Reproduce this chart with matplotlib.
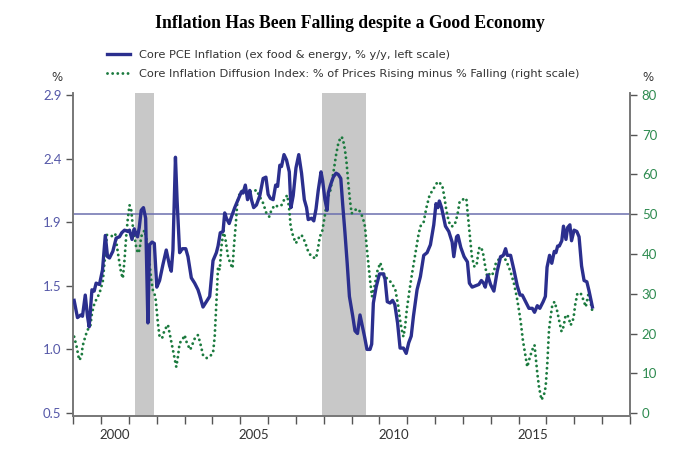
import matplotlib
matplotlib.use("Agg")
import matplotlib.pyplot as plt
import numpy as np

# Core PCE inflation (left scale) as (decimal year, %)
pce_points = [
    (1999.03, 1.35), (1999.15, 1.22), (1999.27, 1.24), (1999.33, 1.23), (1999.43, 1.39),
    (1999.51, 1.23), (1999.57, 1.15), (1999.67, 1.43), (1999.75, 1.42), (1999.82, 1.48),
    (1999.94, 1.47), (2000.05, 1.58), (2000.15, 1.84), (2000.23, 1.68), (2000.30, 1.67),
    (2000.42, 1.72), (2000.54, 1.82), (2000.66, 1.83), (2000.74, 1.86), (2000.84, 1.88),
    (2000.96, 1.87), (2001.02, 1.88), (2001.11, 1.81), (2001.19, 1.89), (2001.25, 1.85),
    (2001.31, 1.83), (2001.37, 1.90), (2001.44, 2.03), (2001.52, 2.05), (2001.60, 1.97),
    (2001.68, 1.18), (2001.74, 1.77), (2001.83, 1.79), (2001.91, 1.78), (2002.00, 1.45),
    (2002.10, 1.50), (2002.22, 1.62), (2002.34, 1.73), (2002.46, 1.61), (2002.52, 1.57),
    (2002.58, 1.73), (2002.67, 2.43), (2002.73, 2.10), (2002.82, 1.71), (2002.92, 1.74),
    (2003.04, 1.74), (2003.12, 1.68), (2003.24, 1.52), (2003.36, 1.48), (2003.48, 1.43),
    (2003.54, 1.39), (2003.66, 1.30), (2003.78, 1.34), (2003.90, 1.38), (2004.02, 1.65),
    (2004.14, 1.71), (2004.20, 1.76), (2004.28, 1.86), (2004.38, 1.87), (2004.44, 2.01),
    (2004.50, 1.97), (2004.60, 1.93), (2004.68, 1.98), (2004.80, 2.05), (2004.92, 2.11),
    (2005.04, 2.17), (2005.10, 2.16), (2005.18, 2.22), (2005.26, 2.11), (2005.34, 2.18),
    (2005.40, 2.11), (2005.48, 2.05), (2005.58, 2.07), (2005.70, 2.14), (2005.82, 2.27),
    (2005.92, 2.28), (2006.00, 2.15), (2006.08, 2.12), (2006.18, 2.11), (2006.27, 2.22),
    (2006.34, 2.21), (2006.42, 2.37), (2006.48, 2.36), (2006.57, 2.45), (2006.66, 2.41),
    (2006.76, 2.32), (2006.82, 2.05), (2006.90, 2.14), (2007.00, 2.35), (2007.10, 2.45),
    (2007.20, 2.31), (2007.30, 2.11), (2007.38, 2.05), (2007.44, 1.96), (2007.56, 1.97),
    (2007.64, 1.95), (2007.72, 2.04), (2007.80, 2.18), (2007.90, 2.32), (2007.96, 2.25),
    (2008.04, 2.11), (2008.12, 2.03), (2008.16, 2.16), (2008.24, 2.22), (2008.34, 2.28),
    (2008.44, 2.31), (2008.52, 2.30), (2008.61, 2.27), (2008.68, 2.07), (2008.76, 1.86),
    (2008.84, 1.63), (2008.92, 1.38), (2009.04, 1.23), (2009.12, 1.12), (2009.21, 1.10),
    (2009.30, 1.24), (2009.40, 1.14), (2009.46, 1.08), (2009.55, 0.98), (2009.66, 0.98),
    (2009.72, 1.02), (2009.78, 1.33), (2009.88, 1.45), (2010.00, 1.55), (2010.14, 1.55),
    (2010.20, 1.51), (2010.28, 1.34), (2010.38, 1.33), (2010.47, 1.35), (2010.55, 1.32),
    (2010.65, 1.18), (2010.74, 0.99), (2010.86, 0.99), (2010.96, 0.95), (2011.05, 1.03),
    (2011.14, 1.08), (2011.22, 1.23), (2011.35, 1.43), (2011.47, 1.53), (2011.59, 1.69),
    (2011.71, 1.71), (2011.83, 1.77), (2011.95, 1.92), (2012.03, 2.08), (2012.10, 2.05),
    (2012.15, 2.10), (2012.23, 2.05), (2012.37, 1.91), (2012.49, 1.87), (2012.61, 1.79),
    (2012.67, 1.68), (2012.77, 1.83), (2012.82, 1.84), (2012.92, 1.75), (2013.04, 1.68),
    (2013.16, 1.64), (2013.23, 1.48), (2013.33, 1.45), (2013.45, 1.46), (2013.57, 1.47),
    (2013.66, 1.50), (2013.74, 1.48), (2013.80, 1.45), (2013.89, 1.54), (2013.99, 1.47),
    (2014.11, 1.42), (2014.23, 1.57), (2014.35, 1.68), (2014.45, 1.69), (2014.53, 1.74),
    (2014.59, 1.69), (2014.71, 1.69), (2014.83, 1.58), (2014.95, 1.46), (2015.05, 1.39),
    (2015.13, 1.39), (2015.25, 1.34), (2015.37, 1.29), (2015.49, 1.29), (2015.57, 1.26),
    (2015.67, 1.31), (2015.76, 1.29), (2015.88, 1.34), (2015.96, 1.38), (2016.02, 1.60),
    (2016.11, 1.69), (2016.19, 1.63), (2016.28, 1.72), (2016.34, 1.71), (2016.40, 1.76),
    (2016.46, 1.76), (2016.55, 1.80), (2016.61, 1.91), (2016.70, 1.81), (2016.76, 1.90),
    (2016.84, 1.92), (2016.90, 1.80), (2016.99, 1.88), (2017.09, 1.87), (2017.17, 1.83),
    (2017.26, 1.61), (2017.35, 1.50), (2017.45, 1.49), (2017.53, 1.42), (2017.65, 1.30),
]

# Core inflation diffusion index (right scale)
dif_points = [
    (1999.03, 19.2), (1999.12, 16.7), (1999.21, 13.3), (1999.30, 14.2), (1999.33, 16.7),
    (1999.43, 19.2), (1999.51, 20.9), (1999.61, 21.7), (1999.67, 25.1), (1999.76, 27.6),
    (1999.94, 30.1), (2000.06, 33.1), (2000.12, 37.7), (2000.18, 42.0), (2000.21, 44.8),
    (2000.30, 44.8), (2000.42, 44.4), (2000.51, 45.0), (2000.57, 41.8), (2000.66, 37.7),
    (2000.72, 35.2), (2000.78, 33.9), (2000.84, 38.5), (2000.90, 44.4), (2000.96, 49.0),
    (2001.02, 52.3), (2001.08, 51.1), (2001.14, 46.9), (2001.20, 44.4), (2001.26, 41.8),
    (2001.32, 40.2), (2001.38, 41.0), (2001.44, 44.4), (2001.56, 46.0), (2001.68, 41.8),
    (2001.74, 37.7), (2001.80, 33.5), (2001.86, 30.9), (2001.95, 29.3), (2002.04, 22.6),
    (2002.10, 19.2), (2002.19, 18.8), (2002.28, 20.9), (2002.40, 22.2), (2002.46, 20.1),
    (2002.58, 15.9), (2002.70, 11.6), (2002.76, 14.2), (2002.82, 17.6), (2002.92, 18.4),
    (2003.00, 19.6), (2003.08, 17.6), (2003.20, 15.9), (2003.30, 17.6), (2003.39, 19.2),
    (2003.48, 19.6), (2003.56, 17.6), (2003.66, 14.6), (2003.78, 13.8), (2003.90, 14.2),
    (2004.02, 15.1), (2004.08, 19.2), (2004.14, 27.6), (2004.20, 36.8), (2004.26, 36.0),
    (2004.32, 41.8), (2004.40, 46.0), (2004.47, 43.5), (2004.56, 39.3), (2004.64, 37.7),
    (2004.72, 36.4), (2004.77, 41.8), (2004.84, 47.7), (2004.89, 52.8), (2004.98, 55.3),
    (2005.10, 56.1), (2005.22, 55.3), (2005.34, 55.7), (2005.46, 55.7), (2005.58, 56.1),
    (2005.70, 54.4), (2005.82, 52.8), (2005.94, 50.2), (2006.04, 49.4), (2006.12, 51.1),
    (2006.24, 52.3), (2006.36, 51.9), (2006.48, 52.3), (2006.60, 54.0), (2006.69, 54.8),
    (2006.76, 51.1), (2006.81, 46.9), (2006.90, 44.4), (2007.00, 42.7), (2007.08, 43.9),
    (2007.20, 44.8), (2007.32, 43.1), (2007.44, 40.6), (2007.56, 39.3), (2007.72, 38.9),
    (2007.80, 41.8), (2007.86, 44.4), (2007.94, 45.6), (2008.04, 49.8), (2008.12, 53.6),
    (2008.24, 56.1), (2008.34, 60.3), (2008.44, 64.9), (2008.52, 67.8), (2008.61, 69.5),
    (2008.68, 69.1), (2008.76, 66.2), (2008.82, 62.8), (2008.88, 57.8), (2008.94, 53.5),
    (2009.00, 50.2), (2009.12, 51.1), (2009.24, 51.3), (2009.34, 50.2), (2009.42, 48.6),
    (2009.48, 46.9), (2009.54, 41.8), (2009.60, 37.7), (2009.66, 33.5), (2009.73, 29.3),
    (2009.82, 31.8), (2009.92, 35.6), (2010.03, 37.8), (2010.11, 35.9), (2010.21, 34.2),
    (2010.33, 33.5), (2010.45, 32.6), (2010.57, 31.0), (2010.68, 26.7), (2010.74, 23.4),
    (2010.80, 20.9), (2010.86, 19.2), (2010.92, 21.7), (2010.98, 25.9), (2011.08, 31.0),
    (2011.17, 35.1), (2011.29, 40.2), (2011.41, 45.2), (2011.49, 47.3), (2011.59, 48.1),
    (2011.68, 51.5), (2011.80, 54.8), (2011.95, 56.5), (2012.09, 58.2), (2012.25, 57.4),
    (2012.33, 54.4), (2012.40, 51.1), (2012.49, 48.1), (2012.59, 46.9), (2012.70, 47.3),
    (2012.80, 49.8), (2012.88, 53.2), (2013.02, 53.8), (2013.12, 54.0), (2013.17, 50.2),
    (2013.24, 45.2), (2013.32, 39.3), (2013.41, 36.8), (2013.49, 37.2), (2013.57, 41.4),
    (2013.65, 41.8), (2013.72, 40.2), (2013.80, 36.8), (2013.87, 34.3), (2013.97, 35.1),
    (2014.05, 34.7), (2014.14, 36.4), (2014.18, 37.7), (2014.23, 38.1), (2014.35, 39.3),
    (2014.47, 39.3), (2014.59, 37.7), (2014.71, 35.5), (2014.83, 32.6), (2014.93, 29.3),
    (2015.01, 25.9), (2015.08, 22.6), (2015.15, 18.4), (2015.25, 14.2), (2015.31, 11.6),
    (2015.41, 14.2), (2015.49, 15.9), (2015.57, 17.1), (2015.61, 14.2), (2015.67, 10.0),
    (2015.73, 6.6), (2015.82, 3.3), (2015.91, 4.6), (2015.97, 6.6), (2016.03, 12.5),
    (2016.09, 20.9), (2016.15, 24.3), (2016.21, 27.2), (2016.29, 28.0), (2016.39, 25.5),
    (2016.45, 23.4), (2016.54, 20.5), (2016.61, 21.7), (2016.69, 24.7), (2016.78, 24.3),
    (2016.87, 22.1), (2016.97, 23.8), (2017.03, 27.2), (2017.11, 30.1), (2017.23, 30.1),
    (2017.33, 28.4), (2017.41, 26.7), (2017.50, 29.7), (2017.57, 28.4), (2017.65, 25.5),
]

recessions = [(2001.2, 2001.9), (2007.95, 2009.5)]
year_labels = [2000, 2005, 2010, 2015]

blue = "#2b2f8e"
green = "#1b7a3e"

pce_year, pce_value = zip(*pce_points)
dif_year, dif_value = zip(*dif_points)

fig = plt.figure(figsize=(7, 4.55), dpi=100)
ax = fig.add_axes([0.1047, 0.0857, 0.7953, 0.7099])
ax2 = ax.twinx()

for start, end in recessions:
    ax2.axvspan(start, end, color="#c8c8c8", lw=0, zorder=0)

ax2.axhline(50, color="#6b6fae", lw=1.1, zorder=1)

dif_line, = ax2.plot(dif_year, dif_value, color=green, lw=2.1, linestyle=(0, (0.01, 1.75)),
                     dash_capstyle="round", zorder=2)
pce_line, = ax.plot(pce_year, pce_value, color=blue, lw=2.4, zorder=3,
                    solid_joinstyle="round")

ax2.set_zorder(ax.get_zorder() - 1)
ax.patch.set_visible(False)

ax.set_xlim(1999, 2019)
ax.set_ylim(0.4774, 2.915)
ax2.set_ylim(-0.755, 80.5)

ax.set_yticks(np.linspace(0.5, 2.9, 6))
ax.set_yticklabels([f"{v:.1f}" for v in np.linspace(0.5, 2.9, 6)])
ax2.set_yticks(np.arange(0, 81, 10))

ax.set_xticks(np.arange(1999, 2020))
ax.set_xticklabels([])
ax.set_xticks([y + 0.5 for y in year_labels], minor=True)
ax.set_xticklabels([str(y) for y in year_labels], minor=True)
ax.tick_params(axis="x", which="minor", length=0, pad=9, labelsize=9.5, labelcolor="#333333")
ax.tick_params(axis="x", which="major", length=6, width=1, color="#555555")
ax.tick_params(axis="y", length=5, width=1, color="#555555", labelsize=9.5,
               labelcolor="#5558a8")
ax2.tick_params(axis="y", length=5, width=1, color="#555555", labelsize=9.5,
                labelcolor="#2e8b50")

for a in (ax, ax2):
    a.spines["top"].set_visible(False)
    for s in ("left", "right", "bottom"):
        a.spines[s].set_color("#777777")
        a.spines[s].set_linewidth(1.2)

fig.text(0.5, 0.948, "Inflation Has Been Falling despite a Good Economy",
         ha="center", va="center", fontsize=12.7, fontweight="bold",
         family="Liberation Serif")
fig.text(0.082, 0.83, "%", ha="center", va="center", fontsize=8.5, color="#333333")
fig.text(0.926, 0.83, "%", ha="center", va="center", fontsize=8.5, color="#333333")

fig.legend([pce_line, dif_line],
           ["Core PCE Inflation (ex food & energy, % y/y, left scale)",
            "Core Inflation Diffusion Index: % of Prices Rising minus % Falling (right scale)"],
           loc="upper left", bbox_to_anchor=(0.138, 0.913), frameon=False,
           fontsize=8.2, handlelength=2.0, labelspacing=0.8, handletextpad=0.8,
           labelcolor="#333333")

for t in ax.get_xticklabels(minor=True) + ax.get_yticklabels() + ax2.get_yticklabels():
    t.set_family("Lato")

fig.savefig("out.png", dpi=100)
